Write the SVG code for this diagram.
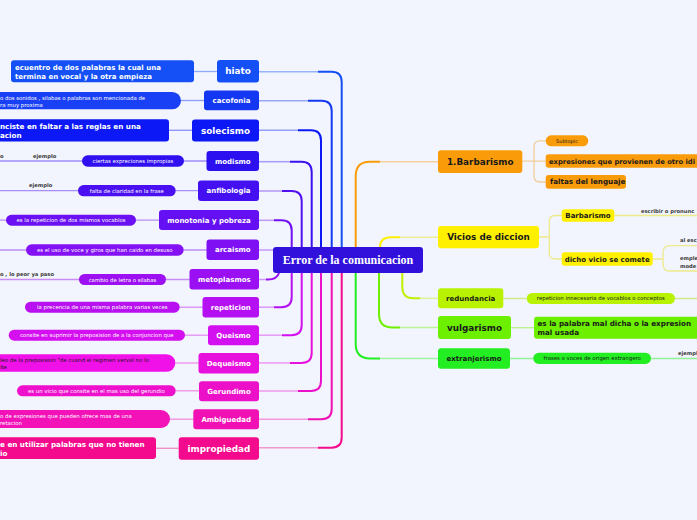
<svg xmlns="http://www.w3.org/2000/svg" width="697" height="520" viewBox="0 0 697 520">
<style>
text{font-family:"DejaVu Sans",Verdana,sans-serif}
.b{font-weight:bold}
.w{fill:#ffffff}
.d{fill:#1a1a1a}
.m{text-anchor:middle}
.s{font-size:5.4px}
.lab{font-size:5.2px;font-weight:bold;fill:#3a3a3a}
.t7{font-size:7px}
.t9{font-size:8.8px}
.c{fill:none;stroke-width:2}
.h{fill:none;stroke-width:1.5;stroke-opacity:0.4}
.k{fill:none;stroke-width:1.3;stroke-opacity:0.45}
</style>
<rect x="0" y="0" width="697" height="520" fill="#f2f5fd"/>
<g id="connectors">
<path class="c" stroke="#1450f5" d="M341.7 247 V82 Q341.7 71.7 331.5 71.7 H318"/>
<path class="h" stroke="#1450f5" d="M318 71.7 H259"/>
<path class="c" stroke="#1438f2" d="M331.7 247 V111 Q331.7 100.7 321.5 100.7 H308"/>
<path class="h" stroke="#1438f2" d="M308 100.7 H259"/>
<path class="c" stroke="#0c18f5" d="M321 247 V140.5 Q321 130.3 311 130.3 H298"/>
<path class="h" stroke="#0c18f5" d="M298 130.3 H259"/>
<path class="c" stroke="#3c10f0" d="M311.7 247 V172 Q311.7 161.7 301.5 161.7 H290"/>
<path class="h" stroke="#3c10f0" d="M290 161.7 H259"/>
<path class="c" stroke="#5010f2" d="M301.7 247 V201 Q301.7 191 291.5 191 H282"/>
<path class="h" stroke="#5010f2" d="M282 191 H259"/>
<path class="c" stroke="#7010f2" d="M291.7 247 V230.5 Q291.7 220.3 281.5 220.3 H274"/>
<path class="h" stroke="#7010f2" d="M274 220.3 H259"/>
<path class="h" stroke="#8010f4" d="M273 250 H259"/>
<path class="c" stroke="#9a10f2" d="M279 273 Q277 279.5 268 279.5 H266"/>
<path class="h" stroke="#9a10f2" d="M266 279.5 H259"/>
<path class="c" stroke="#b410f2" d="M291.7 273 V297 Q291.7 307.2 281.5 307.2 H274"/>
<path class="h" stroke="#b410f2" d="M274 307.2 H259"/>
<path class="c" stroke="#d210f0" d="M301.7 273 V325 Q301.7 335.2 291.5 335.2 H282"/>
<path class="h" stroke="#d210f0" d="M282 335.2 H259"/>
<path class="c" stroke="#e810dc" d="M311.7 273 V352.7 Q311.7 362.9 301.5 362.9 H290"/>
<path class="h" stroke="#e810dc" d="M290 362.9 H259"/>
<path class="c" stroke="#ec10c8" d="M321 273 V380.7 Q321 390.9 311 390.9 H298"/>
<path class="h" stroke="#ec10c8" d="M298 390.9 H259"/>
<path class="c" stroke="#f010b4" d="M331.7 273 V409 Q331.7 419.2 321.5 419.2 H308"/>
<path class="h" stroke="#f010b4" d="M308 419.2 H259"/>
<path class="c" stroke="#f40a8c" d="M341.7 273 V437.5 Q341.7 447.7 331.5 447.7 H318"/>
<path class="h" stroke="#f40a8c" d="M318 447.7 H259"/>
<path class="k" stroke="#1450f5" d="M194 71.5 H217"/>
<path class="k" stroke="#1438f2" d="M181 100.5 H204"/>
<path class="k" stroke="#0c18f5" d="M169 130.3 H192"/>
<path class="k" stroke="#3c10f0" d="M0 161 H82 M184 161 H207"/>
<path class="k" stroke="#5010f2" d="M0 190.7 H78 M175.7 190.7 H198"/>
<path class="k" stroke="#7010f2" d="M0 220.2 H6 M136 220.2 H159"/>
<path class="k" stroke="#8010f4" d="M0 250 H26 M183.7 250 H207"/>
<path class="k" stroke="#9a10f2" d="M0 279.5 H79 M166 279.5 H190"/>
<path class="k" stroke="#b410f2" d="M179.7 307.2 H203"/>
<path class="k" stroke="#d210f0" d="M185 335.2 H208"/>
<path class="k" stroke="#e810dc" d="M175.3 363 H199"/>
<path class="k" stroke="#ec10c8" d="M175.7 390.8 H199"/>
<path class="k" stroke="#f010b4" d="M170 419.2 H193.3"/>
<path class="k" stroke="#f40a8c" d="M155.7 448.3 H178.7"/>
<path class="c" stroke="#fa9c0a" d="M355.7 247 V176 Q355.7 161.7 370 161.7 H380"/>
<path class="h" stroke="#fa9c0a" d="M380 161.7 H438"/>
<path class="c" stroke="#fff000" d="M380 247 Q380 237.2 391 237.2 H400"/>
<path class="h" stroke="#e8e000" d="M400 237.2 H438"/>
<path class="c" stroke="#c0f000" d="M402.3 273 V287 Q402.3 298.3 413.5 298.3 H420"/>
<path class="h" stroke="#b8f200" d="M420 298.3 H438"/>
<path class="c" stroke="#6cf000" d="M379 273 V314 Q379 327.5 392.5 327.5 H400"/>
<path class="h" stroke="#6cf000" d="M400 327.5 H438"/>
<path class="c" stroke="#22ee22" d="M355.7 273 V344 Q355.7 358.4 370 358.4 H380"/>
<path class="h" stroke="#22ee22" d="M380 358.4 H438"/>
<path class="k" stroke="#f0a020" d="M522 161.2 H545.7 M545.7 140.8 H540 Q534 140.8 534 146.8 V176 Q534 182 540 182 H545.7"/>
<path class="k" stroke="#e8dc00" d="M539 237 H549.3 M561.7 215.5 H555.3 Q549.3 215.5 549.3 221.5 V253 Q549.3 259 555.3 259 H561.7"/>
<path class="k" stroke="#e8dc00" d="M614.3 215.5 H697"/>
<path class="k" stroke="#e8dc00" d="M652.7 259 H663 M697 245.7 H670 Q663 245.7 663 252.7 V264 Q663 271 670 271 H697"/>
<path class="k" stroke="#a8e000" d="M503.3 298.5 H526.7 M675 298.5 H697"/>
<path class="k" stroke="#6cf000" d="M511 327.7 H534"/>
<path class="k" stroke="#22ee22" d="M510 358.5 H533.3 M651 358.5 H697"/>
</g>

<g id="root">
<rect x="273" y="247" width="150" height="26" rx="3" fill="#3210dc"/>
<text x="348" y="264.2" class="m" style="font-family:'Liberation Serif','Times New Roman',serif;font-weight:bold;font-size:12px" fill="#ffffff">Error de la comunicacion</text>
</g>

<g id="hiato">
<rect x="217" y="60" width="42" height="22.5" rx="3" fill="#1450f5"/>
<text x="238" y="74.3" class="b w m t9">hiato</text>
</g>
<g id="hiato-def">
<rect x="11" y="60.3" width="183" height="22" rx="3" fill="#1450f5"/>
<text x="15" y="70.2" class="b w t7">ecuentro de dos palabras la cual una</text>
<text x="15" y="79.2" class="b w t7">termina en vocal y la otra empieza</text>
</g>
<g id="cacofonia">
<rect x="204" y="90.5" width="55" height="19.8" rx="3" fill="#1438f2"/>
<text x="231.5" y="102.8" class="b w m t7">cacofonia</text>
</g>
<g id="cacofonia-def">
<rect x="-10" y="92" width="191" height="17.3" rx="8.6" fill="#1a40f5"/>
<text x="0" y="100.4" class="w s">o dos sonidos , silabas o palabras son mencionada de</text>
<text x="0" y="107" class="w s">ra muy proxima</text>
</g>
<g id="solecismo">
<rect x="192" y="119.5" width="67" height="22" rx="3" fill="#0c18f5"/>
<text x="225.5" y="133.6" class="b w m t9">solecismo</text>
</g>
<g id="solecismo-def">
<rect x="-10" y="119.3" width="179" height="22.3" rx="3" fill="#0c18f5"/>
<text x="0" y="129.2" class="b w" style="font-size:7.2px">nciste en faltar a las reglas en una</text>
<text x="0" y="137.8" class="b w" style="font-size:7.2px">acion</text>
</g>
<g id="modismo">
<rect x="206.5" y="151" width="52.5" height="20" rx="3" fill="#2c10f0"/>
<text x="232.8" y="163.5" class="b w m t7">modismo</text>
</g>
<g id="modismo-def">
<rect x="82" y="155.3" width="102" height="11.4" rx="5.7" fill="#3010f0"/>
<text x="133" y="163" class="w m s">ciertas expreciones impropias</text>
<text x="33" y="158" class="lab">ejemplo</text>
<text x="0" y="158" class="lab">o</text>
</g>
<g id="anfibologia">
<rect x="198" y="180.5" width="61" height="20.5" rx="3" fill="#4410f2"/>
<text x="228.5" y="193.3" class="b w m t7">anfibologia</text>
</g>
<g id="anfibologia-def">
<rect x="78" y="185" width="97.7" height="11.3" rx="5.6" fill="#4a10f2"/>
<text x="126.8" y="192.7" class="w m s">falta de claridad en la frase</text>
<text x="29" y="187" class="lab">ejemplo</text>
</g>
<g id="monotonia">
<rect x="159" y="210" width="100" height="20" rx="3" fill="#6410f2"/>
<text x="209" y="222.5" class="b w m t7">monotonia y pobreza</text>
</g>
<g id="monotonia-def">
<rect x="6" y="214.7" width="130" height="11" rx="5.5" fill="#6a10f2"/>
<text x="71" y="222.2" class="w m s">es la repeticion de dos mismos vocablos</text>
</g>
<g id="arcaismo">
<rect x="206.5" y="239.5" width="52.5" height="20.5" rx="3" fill="#8010f4"/>
<text x="232.8" y="252.3" class="b w m t7">arcaismo</text>
</g>
<g id="arcaismo-def">
<rect x="26" y="244.3" width="157.7" height="11.4" rx="5.7" fill="#8410f4"/>
<text x="104.8" y="251.9" class="w m s">es el uso de voce y giros que han caido en desuso</text>
</g>
<g id="metoplasmos">
<rect x="189.5" y="269" width="69.5" height="20.5" rx="3" fill="#9a10f2"/>
<text x="224.3" y="281.8" class="b w m t7">metoplasmos</text>
</g>
<g id="metoplasmos-def">
<rect x="79" y="274" width="87" height="11" rx="5.5" fill="#9c10f2"/>
<text x="122.5" y="281.5" class="w m s">cambio de letra o silabas</text>
<text x="0" y="276" class="lab">o , lo peor ya paso</text>
</g>
<g id="repeticion">
<rect x="202.5" y="297" width="56.5" height="20.5" rx="3" fill="#b410f2"/>
<text x="230.8" y="309.8" class="b w m t7">repeticion</text>
</g>
<g id="repeticion-def">
<rect x="25" y="301.7" width="154.7" height="11" rx="5.5" fill="#b810f0"/>
<text x="102.3" y="309.2" class="w m s">la precencia de una misma palabra varias veces</text>
</g>
<g id="queismo">
<rect x="208" y="325.3" width="51" height="20" rx="3" fill="#d210f0"/>
<text x="233.5" y="337.8" class="b w m t7">Queismo</text>
</g>
<g id="queismo-def">
<rect x="8.7" y="329.7" width="176.3" height="11" rx="5.5" fill="#d410f0"/>
<text x="96.8" y="337.2" class="w m s">consite en suprimir la preposision de a la conjuncion que</text>
</g>
<g id="dequeismo">
<rect x="198.5" y="353" width="60.5" height="20.5" rx="3" fill="#e810dc"/>
<text x="228.8" y="365.8" class="b w m t7">Dequeismo</text>
</g>
<g id="dequeismo-def">
<rect x="-10" y="354.3" width="185.3" height="17.4" rx="8.7" fill="#f010e8"/>
<text x="0" y="362" class="d s">leo de la preposision "de cuand el regimen verval no lo</text>
<text x="0" y="368.7" class="d s">ite</text>
</g>
<g id="gerundimo">
<rect x="199" y="381.3" width="60" height="20" rx="3" fill="#ec10c8"/>
<text x="229" y="393.8" class="b w m t7">Gerundimo</text>
</g>
<g id="gerundimo-def">
<rect x="17" y="385.3" width="158.7" height="11" rx="5.5" fill="#ee10cc"/>
<text x="96.3" y="392.8" class="w m s">es un vicio que consite en el mas uso del gerundio</text>
</g>
<g id="ambiguedad">
<rect x="193.3" y="409.3" width="65.7" height="20" rx="3" fill="#f010b4"/>
<text x="226.2" y="421.8" class="b w m t7">Ambiguedad</text>
</g>
<g id="ambiguedad-def">
<rect x="-10" y="410" width="180" height="18" rx="9" fill="#f212b8"/>
<text x="0" y="418" class="w s">o de expresiones que pueden ofrece mas de una</text>
<text x="0" y="425" class="w s">retacion</text>
</g>
<g id="impropiedad">
<rect x="178.7" y="437.3" width="80.3" height="22.5" rx="3" fill="#f40a8c"/>
<text x="218.9" y="451.6" class="b w m t9">impropiedad</text>
</g>
<g id="impropiedad-def">
<rect x="-10" y="437.3" width="166" height="21.7" rx="3" fill="#f40a8c"/>
<text x="0" y="447.2" class="b w" style="font-size:7.2px">e en utilizar palabras que no tienen</text>
<text x="0" y="455.8" class="b w" style="font-size:7.2px">io</text>
</g>

<g id="barbarismo">
<rect x="438" y="150.3" width="84.3" height="22.7" rx="3" fill="#fa9c0a"/>
<text x="480.2" y="164.8" class="b d m t9">1.Barbarismo</text>
</g>
<g id="subtopic">
<rect x="545.7" y="135.3" width="42.6" height="11" rx="5.5" fill="#fa9c0a"/>
<text x="567" y="142.7" class="d m" style="font-size:5px">Subtopic</text>
</g>
<g id="expresiones">
<rect x="545.7" y="154.3" width="170" height="13.4" rx="3" fill="#fa9c0a"/>
<text x="549" y="163.5" class="b d" style="font-size:6.8px">expresiones que provienen de otro idi</text>
</g>
<g id="faltas">
<rect x="545.7" y="175" width="80.3" height="13.7" rx="3" fill="#fa9c0a"/>
<text x="550" y="184.4" class="b d" style="font-size:7.2px">faltas del lenguaje</text>
</g>
<g id="vicios">
<rect x="438" y="226" width="101" height="22.3" rx="3" fill="#fff000"/>
<text x="488.5" y="240.3" class="b d m t9">Vicios de diccion</text>
</g>
<g id="barbarismo2">
<rect x="561.7" y="209.3" width="52.6" height="12.4" rx="3" fill="#fff000"/>
<text x="588" y="218" class="b d m t7">Barbarismo</text>
<text x="641" y="213" class="lab">escribir o pronunc</text>
</g>
<g id="dicho">
<rect x="561.7" y="252.3" width="91" height="13.4" rx="3" fill="#fff000"/>
<text x="607.2" y="261.5" class="b d m t7">dicho vicio se comete</text>
<text x="680" y="241.5" class="lab">al esc</text>
<text x="680" y="260.2" class="lab">emple</text>
<text x="680" y="268" class="lab">mode</text>
</g>
<g id="redundancia">
<rect x="438" y="288.3" width="65.3" height="20" rx="3" fill="#b8f200"/>
<text x="470.7" y="300.8" class="b d m t7">redundancia</text>
</g>
<g id="redundancia-def">
<rect x="526.7" y="293" width="148.3" height="11" rx="5.5" fill="#b8f200"/>
<text x="600.8" y="300.4" class="d m s">repeticion innecesaria de vocablos o conceptos</text>
</g>
<g id="vulgarismo">
<rect x="438" y="316" width="73" height="23" rx="3" fill="#6cf000"/>
<text x="474.5" y="330.7" class="b d m t9">vulgarismo</text>
</g>
<g id="vulgarismo-def">
<rect x="534" y="316.7" width="170" height="22" rx="3" fill="#6cf000"/>
<text x="537.5" y="326.3" class="b d" style="font-size:7.2px">es la palabra mal dicha o la expresion</text>
<text x="537.5" y="334.9" class="b d" style="font-size:7.2px">mal usada</text>
</g>
<g id="extranjerismo">
<rect x="438" y="348.3" width="72" height="20.4" rx="3" fill="#22ee22"/>
<text x="474" y="361" class="b d m t7">extranjerismo</text>
</g>
<g id="extranjerismo-def">
<rect x="533.3" y="352.7" width="117.7" height="11.3" rx="5.6" fill="#22ee22"/>
<text x="592.2" y="360.3" class="d m s">frases o voces de origen extrangero</text>
<text x="678" y="354.7" class="lab">ejempl</text>
</g>
</svg>
